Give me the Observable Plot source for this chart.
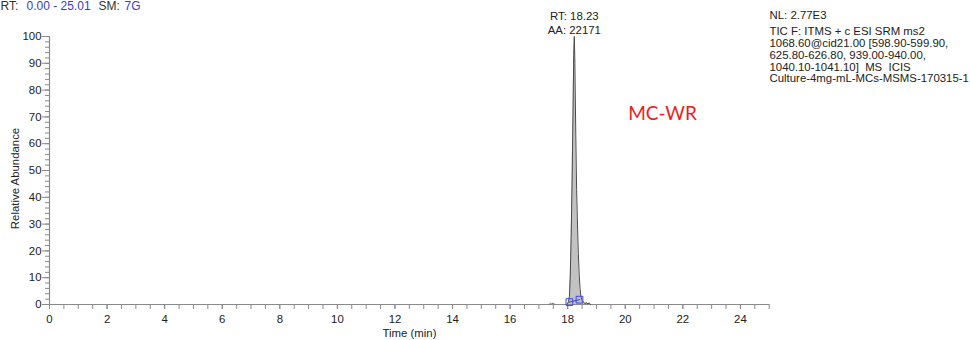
<!DOCTYPE html>
<html>
<head>
<meta charset="utf-8">
<script src="https://cdn.jsdelivr.net/npm/d3@7"></script>
<script src="https://cdn.jsdelivr.net/npm/@observablehq/plot@0.6"></script>
<style>
  html, body { margin: 0; padding: 0; background: #fff; }
  #chart { width: 970px; height: 340px; }
</style>
</head>
<body>
<div id="chart"></div>
<script>
// ---- data ----
const peakTime = [17.98, 18.03, 18.06, 18.09, 18.12, 18.15, 18.18, 18.21, 18.23, 18.25, 18.28, 18.31, 18.34, 18.37, 18.40, 18.43, 18.46, 18.50, 18.55, 18.60, 18.65, 18.70, 18.75, 18.80];
const peakAbund = [0, 1, 3, 11, 25, 44, 68, 93, 100, 90, 64, 43, 30, 19, 11, 6, 3, 1.5, 0.8, 0.4, 0.6, 0.3, 0.5, 0];
const noiseTime = [17.35, 17.40, 17.45, 17.50, 17.55];
const noiseAbund = [0, 0.5, 0.2, 0.6, 0];
const boundTime = [18.06, 18.41];
const boundAbund = [0.9, 1.8];
const xMajorTicks = [0, 2, 4, 6, 8, 10, 12, 14, 16, 18, 20, 22, 24];
const yMajorTicks = [0, 10, 20, 30, 40, 50, 60, 70, 80, 90, 100];
const rangeParts = ["RT:", "0.00 - 25.01", "SM:", "7G"];
const peakLabel = ["RT: 18.23", "AA: 22171"];
const infoLines = ["NL: 2.77E3", "TIC F: ITMS + c ESI SRM ms2", "1068.60@cid21.00 [598.90-599.90,", "625.80-626.80, 939.00-940.00,", "1040.10-1041.10]  MS  ICIS", "Culture-4mg-mL-MCs-MSMS-170315-1"];
const compoundName = "MC-WR";
const xTitle = "Time (min)";
const yTitle = "Relative Abundance";
const xMax = 25.01;

// ---- build ----
const peak = peakTime.map((t, i) => ({t, v: peakAbund[i]}));
const noise = noiseTime.map((t, i) => ({t, v: noiseAbund[i]}));
const bounds = boundTime.map((t, i) => ({t, v: boundAbund[i]}));
const xMinor = d3.range(0, 25.01, 0.5);
const yMinor = d3.range(0, 100.1, 2);

const axisColor = "#8a8a8a";
const textColor = "#222";
const blue = "#3b3bc4";
const fs = 11.4;

const marks = [
  // axes lines
  Plot.ruleY([0], {x1: 0, x2: xMax, stroke: axisColor, strokeWidth: 1.2}),
  Plot.ruleX([0], {y1: 0, y2: 100, stroke: axisColor, strokeWidth: 1.2}),
  // x ticks
  Plot.axisX({ticks: xMinor, tickSize: 5, tickFormat: () => "", stroke: axisColor, label: null}),
  Plot.axisX({ticks: xMajorTicks, tickSize: 5, tickPadding: 5, tickFormat: d => String(d), fill: textColor, stroke: axisColor, fontSize: fs, label: null}),
  // y ticks
  Plot.axisY({ticks: yMinor, tickSize: 4, tickFormat: () => "", stroke: axisColor, label: null}),
  Plot.axisY({ticks: yMajorTicks, tickSize: 7, tickPadding: 1, tickFormat: d => String(d), fill: textColor, stroke: axisColor, fontSize: fs, label: null}),
  // peak
  Plot.areaY(peak, {x: "t", y: "v", fill: "#c2c2c2", curve: "linear"}),
  Plot.lineY(peak, {x: "t", y: "v", stroke: "#4a4a4a", strokeWidth: 1}),
  Plot.lineY(noise, {x: "t", y: "v", stroke: "#777", strokeWidth: 1}),
  // integration boundary markers
  Plot.line(bounds, {x: "t", y: "v", stroke: blue, strokeWidth: 1}),
  Plot.dot(bounds, {x: "t", y: "v", symbol: "square", r: 3.8, stroke: "#3a46f0", fill: "none", strokeWidth: 1}),
  // peak label
  Plot.text([peakLabel[0]], {x: () => 18.23, y: () => 100, dy: -20, text: d => d, fill: textColor, fontSize: fs, textAnchor: "middle"}),
  Plot.text([peakLabel[1]], {x: () => 18.23, y: () => 100, dy: -6, text: d => d, fill: textColor, fontSize: fs, textAnchor: "middle"}),
  // compound name
  Plot.text([compoundName], {frameAnchor: "top-left", dx: 613, dy: 77, text: d => d, fill: "#ee1c1c", fontSize: 19, fontFamily: "Lato, 'Open Sans', sans-serif", textAnchor: "middle", lineAnchor: "middle"}),
  // axis titles
  Plot.text([xTitle], {frameAnchor: "bottom", dy: 29, text: d => d, fill: textColor, fontSize: fs, lineAnchor: "middle"}),
  Plot.text([yTitle], {frameAnchor: "left", dx: -34, dy: 8, rotate: -90, text: d => d, fill: textColor, fontSize: fs, lineAnchor: "middle", textAnchor: "middle"})
];

// info block (top right)
const infoDy = [-21, -5, 6.8, 18.6, 30.4, 42.2];
infoLines.forEach((line, i) => {
  marks.push(Plot.text([line], {frameAnchor: "top-right", dx: 0, dy: infoDy[i], text: d => d, fill: textColor, fontSize: fs, textAnchor: "start", lineAnchor: "middle"}));
});

// range text (top left, partly cut by the top edge as in the source)
const rangeDx = [-49, -23, 49, 75];
const rangeColors = ["#333", blue, "#333", blue];
rangeParts.forEach((p, i) => {
  marks.push(Plot.text([p], {frameAnchor: "top-left", dx: rangeDx[i], dy: -30.5, text: d => d, fill: rangeColors[i], fontSize: 12, textAnchor: "start", lineAnchor: "middle"}));
});

const chart = Plot.plot({
  width: 970,
  height: 340,
  marginLeft: 49,
  marginRight: 201,
  marginTop: 36,
  marginBottom: 36,
  style: {fontFamily: "'Liberation Sans', Arial, sans-serif", fontSize: "11px", background: "#fff", overflow: "visible"},
  x: {domain: [0, xMax]},
  y: {domain: [0, 100]},
  marks
});
document.getElementById("chart").appendChild(chart);
</script>
</body>
</html>
